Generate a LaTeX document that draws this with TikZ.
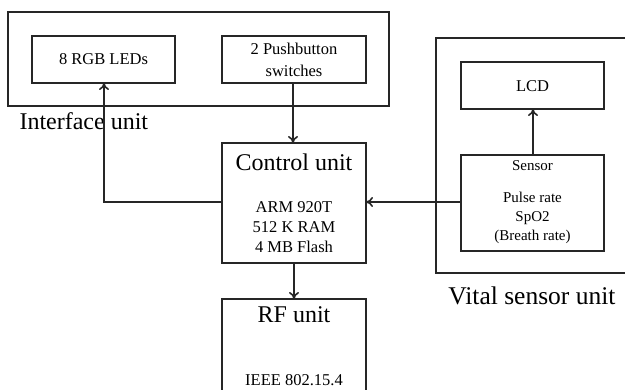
\documentclass[tikz,border=0pt]{standalone}
\usepackage{fontspec}
\setmainfont{Liberation Serif}
\usetikzlibrary{arrows.meta}
\begin{document}
\begin{tikzpicture}[x=1pt,y=-1pt,
  box/.style={draw=black!85,line width=1.7pt},
  conn/.style={draw=black!85,line width=1.7pt},
  arr/.style={conn,-{To[length=7pt,width=10pt,line width=1.6pt]}},
  small/.style={font=\fontsize{16.5}{20}\selectfont,align=center},
  smaller/.style={font=\fontsize{15}{19}\selectfont,align=center},
  big/.style={font=\fontsize{24}{28}\selectfont},
  label/.style={font=\fontsize{25.5}{30}\selectfont},
]
\useasboundingbox (0,0) rectangle (625,390);
% outer groups
\draw[box] (8,12) rectangle (389,106);
\draw[box] (436,38) rectangle (640,273);
\node[big,anchor=west] (iflabel) at (16,121) {Interface unit};
\node[label] (vslabel) at (532,296) {Vital sensor unit};
% inner boxes
\draw[box] (32,36) rectangle (175,83);
\node[small] (led) at (103.5,59.5) {8 RGB LEDs};
\coordinate (ledb) at (104,83);
\draw[box] (222,36) rectangle (366,83);
\node[small,font=\fontsize{16.5}{22}\selectfont] (push) at (294,59.5) {2 Pushbutton\\switches};
\coordinate (pushb) at (293,83);
% control unit
\draw[box] (222,143) rectangle (366,263);
\node[big] (ctitle) at (294,162) {Control unit};
\node[small] (cbody) at (294,227) {ARM 920T\\512 K RAM\\4 MB Flash};
\coordinate (ctop) at (293,143);
\coordinate (cleft) at (222,202);
\coordinate (cright) at (366,202);
\coordinate (cbot) at (294,263);
\coordinate (corner) at (104,202);
% RF unit
\draw[box] (222,299) rectangle (366,400);
\node[big] (rftitle) at (294,315) {RF unit};
\node[small] (rfbody) at (294,380) {IEEE 802.15.4};
\coordinate (rftop) at (294,299);
% LCD and sensor
\draw[box] (461,62) rectangle (604,109);
\node[small] (lcd) at (532.5,86) {LCD};
\coordinate (lcdb) at (533,109);
\draw[box] (461,155) rectangle (604,251);
\node[smaller] (stitle) at (532.5,166) {Sensor};
\node[smaller] (sbody) at (532.5,218) {Pulse rate\\SpO2\\(Breath rate)};
\coordinate (stop) at (533,155);
\coordinate (sleft) at (461,202);
% connectors
\draw[arr] (cleft) -- (corner) -- (ledb);
\draw[arr] (pushb) -- (ctop);
\draw[arr] (sleft) -- (cright);
\draw[arr] (cbot) -- (rftop);
\draw[arr] (stop) -- (lcdb);
\end{tikzpicture}
\end{document}
